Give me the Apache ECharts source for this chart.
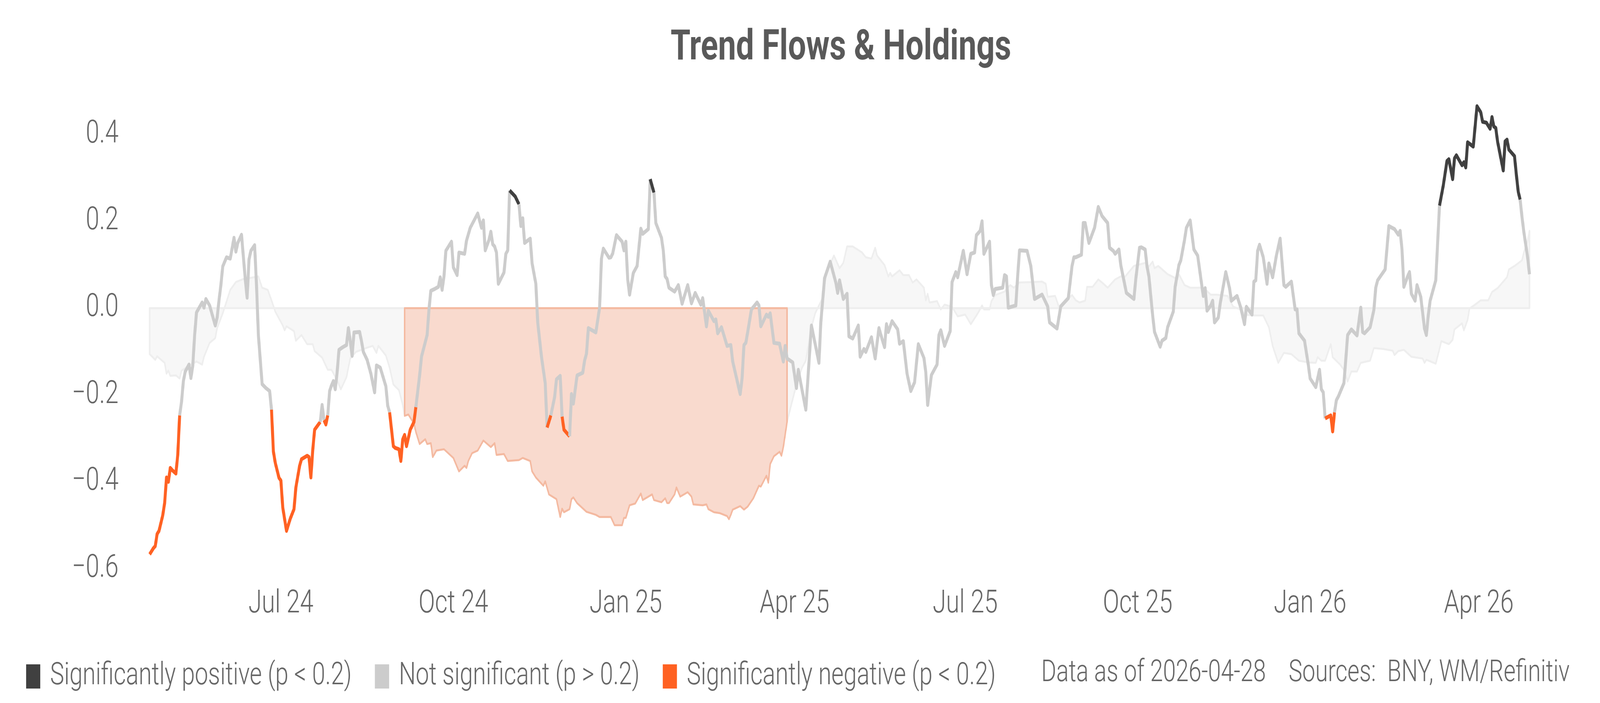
<!DOCTYPE html>
<html>
<head>
<meta charset="utf-8">
<script src="https://cdn.jsdelivr.net/npm/echarts@6/dist/echarts.min.js"></script>
<style>
html,body{margin:0;padding:0;background:#fff;overflow:hidden;width:100vw;height:100vh}
#chart{width:5400px;height:1800px;transform-origin:0 0;position:absolute;left:0;top:0}
</style>
</head>
<body>
<div id="chart"></div>
<script>
// ---- Trend flow signal (line) ----
const flowDates = [
'2024-04-22','2024-04-24','2024-04-25','2024-04-26','2024-04-27','2024-04-29','2024-04-30','2024-05-01','2024-05-02','2024-05-03',
'2024-05-04','2024-05-06','2024-05-07','2024-05-08','2024-05-09','2024-05-10','2024-05-11','2024-05-13','2024-05-14','2024-05-15',
'2024-05-16','2024-05-17','2024-05-20','2024-05-21','2024-05-22','2024-05-24','2024-05-27','2024-05-28','2024-05-29','2024-05-30',
'2024-05-31','2024-06-02','2024-06-04','2024-06-06','2024-06-07','2024-06-08','2024-06-10','2024-06-12','2024-06-13','2024-06-14',
'2024-06-15','2024-06-17','2024-06-18','2024-06-19','2024-06-21','2024-06-23','2024-06-25','2024-06-26','2024-06-27','2024-06-28',
'2024-06-30','2024-07-01','2024-07-02','2024-07-04','2024-07-06','2024-07-08','2024-07-09','2024-07-11','2024-07-12','2024-07-15',
'2024-07-16','2024-07-17','2024-07-18','2024-07-19','2024-07-22','2024-07-23','2024-07-24','2024-07-25','2024-07-26','2024-07-27',
'2024-07-28','2024-07-29','2024-07-30','2024-07-31','2024-08-01','2024-08-03','2024-08-05','2024-08-06','2024-08-07','2024-08-08',
'2024-08-09','2024-08-12','2024-08-13','2024-08-14','2024-08-16','2024-08-18','2024-08-20','2024-08-21','2024-08-23','2024-08-26',
'2024-08-27','2024-08-28','2024-08-30','2024-08-31','2024-09-02','2024-09-03','2024-09-04','2024-09-05','2024-09-06','2024-09-08',
'2024-09-10','2024-09-11','2024-09-13','2024-09-14','2024-09-17','2024-09-18','2024-09-19','2024-09-21','2024-09-23','2024-09-24',
'2024-09-25','2024-09-26','2024-09-27','2024-09-30','2024-10-01','2024-10-03','2024-10-04','2024-10-07','2024-10-08','2024-10-10',
'2024-10-14','2024-10-16','2024-10-17','2024-10-18','2024-10-20','2024-10-21','2024-10-22','2024-10-23','2024-10-24','2024-10-25',
'2024-10-28','2024-10-29','2024-10-30','2024-10-31','2024-11-03','2024-11-05','2024-11-06','2024-11-07','2024-11-08','2024-11-11',
'2024-11-12','2024-11-14','2024-11-15','2024-11-17','2024-11-19','2024-11-20','2024-11-22','2024-11-24','2024-11-25','2024-11-27',
'2024-11-28','2024-11-29','2024-12-02','2024-12-03','2024-12-04','2024-12-06','2024-12-09','2024-12-10','2024-12-11','2024-12-12',
'2024-12-16','2024-12-18','2024-12-19','2024-12-20','2024-12-23','2024-12-24','2024-12-25','2024-12-27','2024-12-30','2024-12-31',
'2025-01-01','2025-01-02','2025-01-03','2025-01-05','2025-01-07','2025-01-09','2025-01-10','2025-01-13','2025-01-14','2025-01-16',
'2025-01-17','2025-01-20','2025-01-21','2025-01-22','2025-01-23','2025-01-24','2025-01-27','2025-01-29','2025-01-31','2025-02-03',
'2025-02-05','2025-02-07','2025-02-10','2025-02-11','2025-02-13','2025-02-14','2025-02-17','2025-02-18','2025-02-19','2025-02-21',
'2025-02-24','2025-02-26','2025-02-27','2025-03-03','2025-03-04','2025-03-05','2025-03-06','2025-03-07','2025-03-09','2025-03-12',
'2025-03-13','2025-03-14','2025-03-17','2025-03-18','2025-03-19','2025-03-21','2025-03-24','2025-03-26','2025-03-27','2025-03-28',
'2025-03-31','2025-04-02','2025-04-03','2025-04-04','2025-04-07','2025-04-09','2025-04-10','2025-04-14','2025-04-15','2025-04-17',
'2025-04-20','2025-04-23','2025-04-24','2025-04-25','2025-04-27','2025-04-29','2025-04-30','2025-05-02','2025-05-05','2025-05-06',
'2025-05-08','2025-05-09','2025-05-12','2025-05-14','2025-05-16','2025-05-18','2025-05-19','2025-05-20','2025-05-21','2025-05-23',
'2025-05-26','2025-05-27','2025-05-29','2025-05-31','2025-06-02','2025-06-04','2025-06-06','2025-06-09','2025-06-10','2025-06-11',
'2025-06-13','2025-06-16','2025-06-17','2025-06-18','2025-06-20','2025-06-23','2025-06-24','2025-06-26','2025-06-27','2025-06-30',
'2025-07-02','2025-07-04','2025-07-06','2025-07-07','2025-07-09','2025-07-10','2025-07-11','2025-07-14','2025-07-15','2025-07-16',
'2025-07-17','2025-07-21','2025-07-22','2025-07-23','2025-07-24','2025-07-28','2025-07-29','2025-07-30','2025-08-03','2025-08-05',
'2025-08-07','2025-08-11','2025-08-14','2025-08-15','2025-08-17','2025-08-19','2025-08-21','2025-08-25','2025-08-27','2025-08-28',
'2025-08-29','2025-09-01','2025-09-02','2025-09-03','2025-09-05','2025-09-08','2025-09-10','2025-09-12','2025-09-15','2025-09-16',
'2025-09-18','2025-09-19','2025-09-21','2025-09-22','2025-09-25','2025-09-29','2025-09-30','2025-10-02','2025-10-03','2025-10-05',
'2025-10-06','2025-10-07','2025-10-09','2025-10-10','2025-10-13','2025-10-14','2025-10-16','2025-10-17','2025-10-20','2025-10-21',
'2025-10-23','2025-10-24','2025-10-26','2025-10-27','2025-10-29','2025-10-31','2025-11-02','2025-11-05','2025-11-06','2025-11-07',
'2025-11-09','2025-11-10','2025-11-11','2025-11-13','2025-11-14','2025-11-17','2025-11-19','2025-11-20','2025-11-23','2025-11-25',
'2025-11-27','2025-11-28','2025-12-01','2025-12-02','2025-12-03','2025-12-04','2025-12-05','2025-12-07','2025-12-09','2025-12-10',
'2025-12-12','2025-12-14','2025-12-16','2025-12-18','2025-12-19','2025-12-22','2025-12-24','2025-12-25','2025-12-26','2025-12-29',
'2025-12-31','2026-01-01','2026-01-04','2026-01-06','2026-01-07','2026-01-08','2026-01-09','2026-01-12','2026-01-13','2026-01-14',
'2026-01-15','2026-01-16','2026-01-19','2026-01-20','2026-01-21','2026-01-23','2026-01-26','2026-01-28','2026-01-29','2026-01-30',
'2026-02-02','2026-02-04','2026-02-05','2026-02-06','2026-02-10','2026-02-12','2026-02-15','2026-02-17','2026-02-18','2026-02-19',
'2026-02-20','2026-02-22','2026-02-23','2026-02-24','2026-02-26','2026-02-27','2026-03-01','2026-03-03','2026-03-04','2026-03-05',
'2026-03-06','2026-03-09','2026-03-11','2026-03-13','2026-03-15','2026-03-16','2026-03-18','2026-03-19','2026-03-20','2026-03-23',
'2026-03-24','2026-03-25','2026-03-26','2026-03-29','2026-03-31','2026-04-02','2026-04-03','2026-04-05','2026-04-07','2026-04-08',
'2026-04-09','2026-04-10','2026-04-11','2026-04-12','2026-04-14','2026-04-15','2026-04-16','2026-04-17','2026-04-20','2026-04-21',
'2026-04-22','2026-04-23','2026-04-24','2026-04-25','2026-04-27','2026-04-28'
];
const flowValues = [
-0.567,-0.553,-0.548,-0.520,-0.513,-0.477,-0.449,-0.390,-0.400,-0.368,
-0.373,-0.381,-0.338,-0.247,-0.216,-0.168,-0.146,-0.130,-0.161,-0.133,
-0.062,-0.010,0.013,0.001,0.021,0.006,-0.040,-0.022,0.018,0.053,
0.096,0.117,0.114,0.162,0.130,0.150,0.169,0.067,0.024,0.112,
0.132,0.145,0.053,-0.062,-0.175,-0.184,-0.191,-0.234,-0.330,-0.356,
-0.391,-0.397,-0.459,-0.513,-0.485,-0.463,-0.413,-0.363,-0.348,-0.340,
-0.343,-0.390,-0.327,-0.280,-0.262,-0.223,-0.258,-0.268,-0.247,-0.191,
-0.178,-0.168,-0.187,-0.148,-0.096,-0.090,-0.085,-0.046,-0.076,-0.110,
-0.056,-0.055,-0.076,-0.101,-0.119,-0.151,-0.194,-0.132,-0.137,-0.180,
-0.225,-0.240,-0.318,-0.322,-0.325,-0.352,-0.302,-0.292,-0.318,-0.280,
-0.262,-0.228,-0.155,-0.112,-0.062,-0.003,0.040,0.044,0.049,0.071,
0.042,0.073,0.132,0.153,0.094,0.076,0.128,0.125,0.155,0.185,
0.218,0.185,0.202,0.133,0.157,0.176,0.147,0.142,0.128,0.056,
0.082,0.125,0.133,0.271,0.257,0.239,0.189,0.207,0.150,0.160,
0.103,0.056,-0.033,-0.112,-0.173,-0.275,-0.247,-0.205,-0.164,-0.156,
-0.250,-0.280,-0.295,-0.198,-0.220,-0.155,-0.149,-0.121,-0.105,-0.046,
-0.056,0.001,0.114,0.137,0.116,0.117,0.126,0.168,0.153,0.133,
0.153,0.066,0.031,0.081,0.097,0.183,0.171,0.182,0.297,0.266,
0.196,0.162,0.132,0.073,0.067,0.047,0.038,0.053,0.010,0.053,
0.011,0.035,0.008,0.023,-0.042,-0.006,-0.030,-0.026,-0.058,-0.044,
-0.087,-0.085,-0.123,-0.198,-0.162,-0.085,-0.080,-0.055,-0.003,0.013,
0.006,-0.042,-0.015,-0.020,-0.012,-0.080,-0.082,-0.123,-0.087,-0.116,
-0.125,-0.184,-0.142,-0.166,-0.234,-0.105,-0.040,-0.126,-0.033,0.069,
0.107,0.059,0.035,0.064,0.021,0.033,-0.065,-0.070,-0.040,-0.112,
-0.094,-0.101,-0.067,-0.116,-0.046,-0.076,-0.090,-0.037,-0.055,-0.030,
-0.049,-0.082,-0.076,-0.151,-0.191,-0.171,-0.083,-0.115,-0.148,-0.223,
-0.154,-0.130,-0.062,-0.051,-0.087,-0.053,0.060,0.083,0.071,0.132,
0.078,0.125,0.128,0.168,0.178,0.200,0.125,0.153,0.053,0.030,
0.044,0.047,0.076,0.073,0.001,0.006,0.074,0.133,0.132,0.097,
0.021,0.031,0.004,-0.033,-0.040,-0.047,0.004,0.023,0.097,0.117,
0.117,0.123,0.196,0.196,0.150,0.185,0.233,0.212,0.196,0.139,
0.132,0.125,0.135,0.099,0.035,0.021,0.067,0.139,0.140,0.135,
0.096,0.073,-0.017,-0.055,-0.089,-0.075,-0.069,-0.044,-0.008,0.049,
0.099,0.110,0.157,0.185,0.202,0.135,0.121,0.028,0.046,-0.006,
0.006,0.017,-0.033,-0.022,0.010,0.083,0.046,0.017,0.028,0.001,
-0.037,0.003,-0.015,0.061,0.064,0.132,0.146,0.117,0.056,0.103,
0.071,0.121,0.160,0.053,0.049,0.061,-0.003,-0.003,-0.058,-0.075,
-0.130,-0.162,-0.182,-0.142,-0.187,-0.194,-0.254,-0.247,-0.284,-0.240,
-0.212,-0.204,-0.173,-0.119,-0.062,-0.049,-0.063,0.001,-0.055,-0.058,
-0.044,-0.004,0.047,0.064,0.089,0.189,0.182,0.169,0.178,0.135,
0.049,0.073,0.083,0.033,0.017,0.053,0.026,-0.047,-0.062,-0.017,
0.017,0.064,0.236,0.282,0.339,0.343,0.297,0.345,0.352,0.329,
0.336,0.324,0.382,0.372,0.465,0.451,0.429,0.427,0.413,0.440,
0.418,0.415,0.383,0.361,0.317,0.384,0.388,0.365,0.350,0.307,
0.268,0.250,0.210,0.175,0.117,0.078
];
// Periods where the signal is significant (line segments inside get coloured)
const negPeriods = [
['2024-04-22','2024-05-08'],['2024-06-26','2024-07-22'],['2024-07-24','2024-07-26'],
['2024-08-28','2024-09-11'],['2024-11-20','2024-11-22'],['2024-11-28','2024-12-02'],
['2026-01-09','2026-01-14']
];
const posPeriods = [
['2024-10-31','2024-11-05'],['2025-01-14','2025-01-16'],['2026-03-11','2026-04-23']
];

// ---- Holdings (background area) ----
const holdDates = [
'2024-04-22','2024-04-25','2024-04-26','2024-04-30','2024-05-01','2024-05-02','2024-05-03','2024-05-06','2024-05-08','2024-05-09',
'2024-05-13','2024-05-17','2024-05-20','2024-05-21','2024-05-24','2024-05-27','2024-05-28','2024-05-31','2024-06-04','2024-06-07',
'2024-06-11','2024-06-14','2024-06-19','2024-06-21','2024-06-24','2024-06-26','2024-06-28','2024-07-02','2024-07-03','2024-07-04',
'2024-07-08','2024-07-09','2024-07-12','2024-07-15','2024-07-18','2024-07-19','2024-07-23','2024-07-26','2024-07-28','2024-07-31',
'2024-08-02','2024-08-05','2024-08-07','2024-08-10','2024-08-16','2024-08-19','2024-08-21','2024-08-22','2024-08-26','2024-08-28',
'2024-08-30','2024-09-02','2024-09-04','2024-09-05','2024-09-07','2024-09-10','2024-09-11','2024-09-13','2024-09-16','2024-09-17',
'2024-09-19','2024-09-20','2024-09-22','2024-09-26','2024-10-01','2024-10-04','2024-10-07','2024-10-08','2024-10-09','2024-10-11',
'2024-10-14','2024-10-17','2024-10-21','2024-10-23','2024-10-24','2024-10-28','2024-10-30','2024-11-05','2024-11-07','2024-11-11',
'2024-11-12','2024-11-14','2024-11-18','2024-11-19','2024-11-21','2024-11-25','2024-11-27','2024-11-28','2024-11-29','2024-12-02',
'2024-12-03','2024-12-04','2024-12-06','2024-12-11','2024-12-16','2024-12-18','2024-12-24','2024-12-26','2024-12-30','2024-12-31',
'2025-01-01','2025-01-03','2025-01-06','2025-01-09','2025-01-10','2025-01-15','2025-01-16','2025-01-20','2025-01-22','2025-01-23',
'2025-01-24','2025-01-27','2025-01-28','2025-01-30','2025-02-03','2025-02-05','2025-02-06','2025-02-11','2025-02-13','2025-02-14',
'2025-02-17','2025-02-20','2025-02-24','2025-02-25','2025-02-26','2025-02-27','2025-03-03','2025-03-05','2025-03-07','2025-03-10',
'2025-03-13','2025-03-14','2025-03-17','2025-03-18','2025-03-19','2025-03-21','2025-03-24','2025-03-25','2025-03-26','2025-03-28',
'2025-03-30','2025-04-02','2025-04-05','2025-04-07','2025-04-10','2025-04-12','2025-04-16','2025-04-18','2025-04-22','2025-04-25',
'2025-04-27','2025-04-29','2025-05-02','2025-05-07','2025-05-09','2025-05-12','2025-05-14','2025-05-15','2025-05-19','2025-05-21',
'2025-05-22','2025-05-23','2025-05-27','2025-05-29','2025-06-01','2025-06-03','2025-06-05','2025-06-09','2025-06-10','2025-06-11',
'2025-06-12','2025-06-16','2025-06-18','2025-06-20','2025-06-24','2025-06-27','2025-07-01','2025-07-04','2025-07-07','2025-07-08',
'2025-07-10','2025-07-11','2025-07-14','2025-07-15','2025-07-17','2025-07-22','2025-07-25','2025-07-27','2025-07-30','2025-08-06',
'2025-08-11','2025-08-13','2025-08-14','2025-08-18','2025-08-20','2025-08-21','2025-08-27','2025-08-29','2025-08-31','2025-09-03',
'2025-09-04','2025-09-07','2025-09-10','2025-09-12','2025-09-15','2025-09-19','2025-09-22','2025-09-24','2025-09-29','2025-10-05',
'2025-10-07','2025-10-09','2025-10-10','2025-10-12','2025-10-17','2025-10-22','2025-10-23','2025-10-26','2025-10-29','2025-11-05',
'2025-11-09','2025-11-12','2025-11-18','2025-11-21','2025-11-25','2025-11-27','2025-12-02','2025-12-07','2025-12-10','2025-12-12',
'2025-12-15','2025-12-18','2025-12-22','2025-12-26','2025-12-31','2026-01-04','2026-01-05','2026-01-07','2026-01-09','2026-01-12',
'2026-01-13','2026-01-17','2026-01-19','2026-01-21','2026-01-23','2026-01-26','2026-01-28','2026-02-02','2026-02-04','2026-02-09',
'2026-02-14','2026-02-15','2026-02-17','2026-02-20','2026-02-24','2026-03-02','2026-03-03','2026-03-04','2026-03-09','2026-03-11',
'2026-03-12','2026-03-16','2026-03-18','2026-03-19','2026-03-23','2026-03-24','2026-03-26','2026-03-27','2026-03-30','2026-04-02',
'2026-04-06','2026-04-08','2026-04-11','2026-04-16','2026-04-17','2026-04-20','2026-04-24','2026-04-25','2026-04-27','2026-04-28'
];
const holdValues = [
-0.106,-0.119,-0.111,-0.126,-0.151,-0.144,-0.156,-0.155,-0.162,-0.144,
-0.133,-0.123,-0.130,-0.112,-0.080,-0.069,-0.046,-0.012,0.042,0.060,
0.067,0.069,0.073,0.047,0.042,0.018,-0.008,-0.040,-0.051,-0.042,
-0.053,-0.075,-0.062,-0.083,-0.083,-0.099,-0.114,-0.142,-0.142,-0.166,
-0.187,-0.159,-0.116,-0.101,-0.091,-0.087,-0.103,-0.087,-0.109,-0.137,
-0.176,-0.189,-0.223,-0.248,-0.245,-0.266,-0.285,-0.313,-0.302,-0.313,
-0.311,-0.343,-0.328,-0.325,-0.345,-0.376,-0.363,-0.368,-0.352,-0.334,
-0.328,-0.305,-0.320,-0.311,-0.338,-0.336,-0.352,-0.350,-0.345,-0.352,
-0.376,-0.390,-0.409,-0.399,-0.429,-0.440,-0.481,-0.462,-0.470,-0.463,
-0.440,-0.436,-0.449,-0.469,-0.476,-0.481,-0.481,-0.500,-0.500,-0.483,
-0.483,-0.454,-0.450,-0.427,-0.442,-0.429,-0.442,-0.447,-0.438,-0.449,
-0.449,-0.429,-0.413,-0.434,-0.424,-0.434,-0.452,-0.454,-0.452,-0.463,
-0.470,-0.472,-0.479,-0.486,-0.476,-0.464,-0.456,-0.464,-0.457,-0.438,
-0.409,-0.411,-0.386,-0.402,-0.359,-0.341,-0.331,-0.340,-0.320,-0.262,
-0.227,-0.176,-0.137,-0.121,-0.044,-0.012,0.024,0.082,0.121,0.092,
0.104,0.142,0.142,0.128,0.117,0.114,0.139,0.121,0.099,0.073,
0.081,0.073,0.087,0.076,0.076,0.059,0.066,0.047,0.018,0.033,
0.013,0.016,-0.003,0.008,0.003,-0.019,-0.015,-0.037,-0.017,-0.010,
0.006,-0.003,-0.003,0.016,0.030,0.038,0.053,0.047,0.059,0.060,
0.061,0.056,0.026,0.028,0.003,0.006,0.030,0.018,0.013,0.017,
0.049,0.049,0.066,0.059,0.047,0.066,0.073,0.071,0.097,0.104,
0.096,0.107,0.092,0.097,0.078,0.067,0.078,0.053,0.047,0.047,
0.031,0.031,0.028,0.003,-0.003,-0.015,-0.017,-0.017,-0.044,-0.087,
-0.126,-0.103,-0.106,-0.121,-0.125,-0.126,-0.113,-0.121,-0.121,-0.083,
-0.113,-0.130,-0.142,-0.169,-0.146,-0.146,-0.126,-0.121,-0.092,-0.094,
-0.098,-0.108,-0.099,-0.096,-0.112,-0.116,-0.126,-0.119,-0.128,-0.094,
-0.076,-0.083,-0.073,-0.049,-0.035,-0.051,-0.027,-0.001,0.008,0.018,
0.018,0.037,0.046,0.071,0.089,0.097,0.110,0.128,0.155,0.178
];
const shadedPeriod = ['2024-09-05','2025-03-28'];

// ---- Axis / legend text ----
const xTickDates = ['2024-07-01','2024-10-01','2025-01-01','2025-04-01','2025-07-01','2025-10-01','2026-01-01','2026-04-01'];
const monthNames = ['Jan','Feb','Mar','Apr','May','Jun','Jul','Aug','Sep','Oct','Nov','Dec'];
const legendNames = {
  pos: 'Significantly positive (p < 0.2)',
  ns: 'Not significant (p > 0.2)',
  neg: 'Significantly negative (p < 0.2)'
};
const titleText = 'Trend Flows & Holdings';
const dataAsOf = 'Data as of 2026-04-28';
const sourcesText = 'Sources:  BNY, WM/Refinitiv';

const COLORS = { pos: '#404040', ns: '#cccccc', neg: '#ff6122' };
const FONT = "Roboto, 'Liberation Sans', sans-serif";
const TXT = '#666666';

const ts = d => Date.parse(d + 'T00:00:00Z');
const inAny = (a, b, periods) => periods.some(p => a >= ts(p[0]) && b <= ts(p[1]));

// build coloured runs of the signal line
const runs = [];
for (let i = 1; i < flowDates.length; i++) {
  const a = ts(flowDates[i - 1]), b = ts(flowDates[i]);
  const k = inAny(a, b, posPeriods) ? 'pos' : (inAny(a, b, negPeriods) ? 'neg' : 'ns');
  const last = runs[runs.length - 1];
  if (last && last.k === k) last.pts.push([b, flowValues[i]]);
  else runs.push({ k, pts: [[a, flowValues[i - 1]], [b, flowValues[i]]] });
}

const hTs = holdDates.map(ts);
const shadeS = ts(shadedPeriod[0]), shadeE = ts(shadedPeriod[1]);
const areaSegs = [
  { s: hTs[0], e: shadeS, fill: '#f7f7f7', stroke: '#eeeeee' },
  { s: shadeE, e: hTs[hTs.length - 1], fill: '#f7f7f7', stroke: '#eeeeee' },
  { s: shadeS, e: shadeE, fill: '#f9dace', stroke: '#f4b9a0' }
];

const series = [];
series.push({
  type: 'custom',
  coordinateSystem: 'cartesian2d',
  silent: true,
  z: 1,
  encode: { x: 0, y: 1 },
  data: areaSegs.map(s => [s.s, 0]),
  renderItem: function (params, api) {
    const seg = areaSegs[params.dataIndex];
    const pts = [];
    for (let i = 0; i < hTs.length; i++) {
      if (hTs[i] >= seg.s && hTs[i] <= seg.e) pts.push(api.coord([hTs[i], holdValues[i]]));
    }
    pts.push(api.coord([seg.e, 0]));
    pts.push(api.coord([seg.s, 0]));
    return { type: 'polygon', shape: { points: pts }, style: { fill: seg.fill, stroke: seg.stroke, lineWidth: 5, lineJoin: 'round' } };
  }
});
runs.forEach(r => {
  series.push({
    type: 'line',
    name: legendNames[r.k],
    data: r.pts,
    showSymbol: false,
    symbol: 'none',
    silent: true,
    z: 3,
    color: COLORS[r.k],
    lineStyle: { width: 10, color: COLORS[r.k], join: 'round' }
  });
});

// fit the 5400x1800 drawing to the actual viewport
const el = document.getElementById('chart');
const sx = (window.innerWidth || 5400) / 5400, sy = (window.innerHeight || 1800) / 1800;
el.style.transform = 'scale(' + sx + ',' + sy + ')';

const chart = echarts.init(el, null, { width: 5400, height: 1800, renderer: 'canvas' });
chart.setOption({
  animation: false,
  backgroundColor: '#ffffff',
  title: [
    { text: titleText, left: 2833, textAlign: 'center', top: 66,
      textStyle: { fontSize: 108, fontWeight: 'bold', color: '#595959', fontFamily: FONT } },
    { text: dataAsOf, left: 3509, top: 1680,
      textStyle: { fontSize: 78, fontWeight: 300, color: TXT, fontFamily: FONT } },
    { text: sourcesText, left: 4344, top: 1680,
      textStyle: { fontSize: 78, fontWeight: 300, color: TXT, fontFamily: FONT } }
  ],
  legend: {
    left: 83, top: 1687, orient: 'horizontal',
    itemWidth: 48, itemHeight: 62, itemGap: 78,
    selectedMode: false,
    textStyle: { fontSize: 80, fontWeight: 300, color: TXT, fontFamily: FONT, padding: [0, 0, 0, 28] },
    data: ['pos', 'ns', 'neg'].map(k => ({ name: legendNames[k], icon: 'rect', itemStyle: { color: COLORS[k] } }))
  },
  grid: { left: 505, right: 238, top: 233, bottom: 344 },
  xAxis: {
    type: 'value',
    min: ts(flowDates[0]),
    max: ts(flowDates[flowDates.length - 1]),
    axisLine: { show: false }, axisTick: { show: false }, splitLine: { show: false },
    axisLabel: {
      customValues: xTickDates.map(ts),
      formatter: v => { const d = new Date(v); return monthNames[d.getUTCMonth()] + ' ' + String(d.getUTCFullYear()).slice(2); },
      fontSize: 82, fontWeight: 300, color: TXT, fontFamily: FONT, margin: 50, hideOverlap: false
    }
  },
  yAxis: {
    type: 'value', min: -0.6, max: 0.5, interval: 0.2,
    axisLine: { show: false }, axisTick: { show: false }, splitLine: { show: false },
    axisLabel: {
      formatter: v => {
        if (Math.abs(v * 5 - Math.round(v * 5)) > 1e-6) return '';
        if (Math.abs(v) < 1e-9) return '0.0';
        return (v < 0 ? '\u2212' : '') + Math.abs(v).toFixed(1);
      },
      fontSize: 82, fontWeight: 300, color: TXT, fontFamily: FONT, margin: 105
    }
  },
  series: series
});
</script>
</body>
</html>
